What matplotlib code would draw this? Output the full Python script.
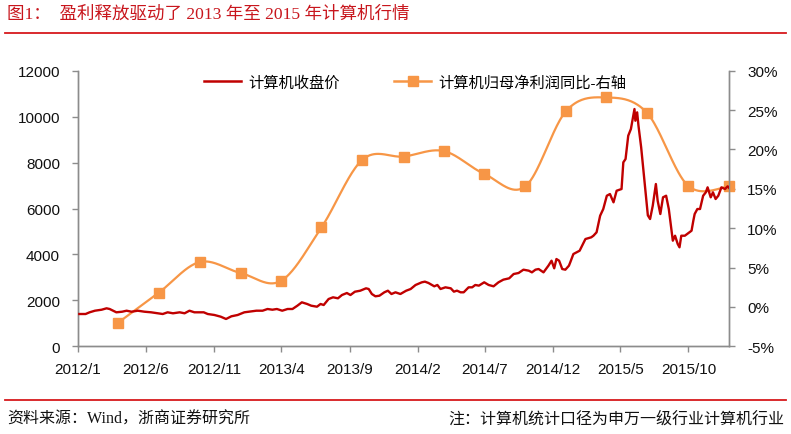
import numpy as np
import pandas as pd
import matplotlib
matplotlib.use("Agg")
import matplotlib.pyplot as plt
import matplotlib.dates as mdates
from matplotlib.lines import Line2D

# ---------------- data ----------------
PRICE_DATES = [
    "2012-01-04", "2012-01-18", "2012-01-27", "2012-02-08", "2012-02-23", "2012-03-05",
    "2012-03-12", "2012-03-20", "2012-03-27", "2012-04-09", "2012-04-19", "2012-04-30",
    "2012-05-14", "2012-05-29", "2012-06-13", "2012-06-28", "2012-07-09", "2012-07-20",
    "2012-08-01", "2012-08-16", "2012-08-27", "2012-09-07", "2012-09-18", "2012-10-09",
    "2012-10-18", "2012-11-02", "2012-11-16", "2012-11-28", "2012-12-10", "2012-12-24",
    "2013-01-08", "2013-01-18", "2013-02-04", "2013-02-18", "2013-03-01", "2013-03-12",
    "2013-03-22", "2013-04-03", "2013-04-15", "2013-04-26", "2013-05-07", "2013-05-17",
    "2013-05-29", "2013-06-07", "2013-06-20", "2013-06-28", "2013-07-05", "2013-07-16",
    "2013-07-26", "2013-08-06", "2013-08-15", "2013-08-26", "2013-09-03", "2013-09-13",
    "2013-09-25", "2013-10-08", "2013-10-14", "2013-10-21", "2013-10-29", "2013-11-07",
    "2013-11-18", "2013-11-26", "2013-12-04", "2013-12-13", "2013-12-24", "2014-01-06",
    "2014-01-16", "2014-01-27", "2014-02-10", "2014-02-17", "2014-02-25", "2014-03-10",
    "2014-03-17", "2014-03-24", "2014-04-04", "2014-04-16", "2014-04-23", "2014-04-30",
    "2014-05-08", "2014-05-15", "2014-05-26", "2014-06-03", "2014-06-10", "2014-06-18",
    "2014-06-30", "2014-07-10", "2014-07-21", "2014-08-01", "2014-08-12", "2014-08-25",
    "2014-09-04", "2014-09-15", "2014-09-26", "2014-10-08", "2014-10-15", "2014-10-23",
    "2014-10-30", "2014-11-10", "2014-11-21", "2014-11-28", "2014-12-04", "2014-12-09",
    "2014-12-15", "2014-12-22", "2014-12-29", "2015-01-06", "2015-01-09", "2015-01-16",
    "2015-01-23", "2015-01-30", "2015-02-12", "2015-02-25", "2015-03-02", "2015-03-09",
    "2015-03-17", "2015-03-24", "2015-04-01", "2015-04-08", "2015-04-16", "2015-04-23",
    "2015-05-04", "2015-05-08", "2015-05-13", "2015-05-19", "2015-05-25", "2015-06-02",
    "2015-06-04", "2015-06-08", "2015-06-11", "2015-06-17", "2015-06-24", "2015-07-02",
    "2015-07-07", "2015-07-13", "2015-07-20", "2015-07-24", "2015-07-30", "2015-08-05",
    "2015-08-12", "2015-08-18", "2015-08-24", "2015-08-27", "2015-09-01", "2015-09-07",
    "2015-09-11", "2015-09-15", "2015-09-23", "2015-10-08", "2015-10-12", "2015-10-15",
    "2015-10-21", "2015-10-27", "2015-11-03", "2015-11-09", "2015-11-13", "2015-11-20",
    "2015-11-25", "2015-12-01", "2015-12-07", "2015-12-14", "2015-12-22", "2015-12-28",
    "2015-12-31",
]
PRICE_VALUES = [
    1406, 1406, 1480, 1550, 1593, 1654,
    1624, 1550, 1480, 1506, 1550, 1506,
    1550, 1506, 1480, 1437, 1406, 1480,
    1437, 1480, 1437, 1550, 1480, 1480,
    1406, 1363, 1290, 1189, 1306, 1363,
    1480, 1506, 1550, 1550, 1624, 1593,
    1624, 1550, 1624, 1624, 1768, 1915,
    1842, 1768, 1724, 1842, 1798, 2059,
    2133, 2090, 2233, 2320, 2233, 2377,
    2421, 2525, 2494, 2277, 2177, 2203,
    2351, 2421, 2277, 2351, 2277, 2421,
    2494, 2669, 2786, 2815, 2757, 2612,
    2670, 2495, 2568, 2525, 2379, 2423,
    2351, 2351, 2568, 2568, 2670, 2641,
    2786, 2670, 2612, 2786, 2902, 2960,
    3147, 3191, 3336, 3292, 3220, 3336,
    3365, 3220, 3510, 3727, 3395, 3800,
    3727, 3365, 3336, 3510, 3657, 4018,
    4092, 4162, 4671, 4745, 4815, 4963,
    5686, 5977, 6556, 6630, 6269, 6774,
    6848, 8010, 8154, 9169, 9460, 10331,
    9822, 10187, 9604, 8663, 7283, 5700,
    5542, 6121, 7066, 6339, 5760, 6487,
    6556, 5977, 5033, 4598, 4815, 4454,
    4310, 4815, 4815, 5033, 5468, 5760,
    5977, 5977, 6556, 6704, 6922, 6487,
    6704, 6413, 6556, 6922, 6848, 6966,
    6900,
]

PROFIT_DATES = [
    "2012-03-31", "2012-06-30", "2012-09-30", "2012-12-31",
    "2013-03-31", "2013-06-30", "2013-09-30", "2013-12-31",
    "2014-03-31", "2014-06-30", "2014-09-30", "2014-12-31",
    "2015-03-31", "2015-06-30", "2015-09-30", "2015-12-31",
]
PROFIT_YOY = [
    -2.0, 1.8, 5.7, 4.3,
    3.3, 10.1, 18.7, 19.1,
    19.8, 16.9, 15.3, 24.9,
    26.6, 24.65, 15.4, 15.3,
]

XTICK_DATES = ["2012-01-01", "2012-06-01", "2012-11-01", "2013-04-01", "2013-09-01",
               "2014-02-01", "2014-07-01", "2014-12-01", "2015-05-01", "2015-10-01"]
XTICK_LABELS = ["2012/1", "2012/6", "2012/11", "2013/4", "2013/9",
                "2014/2", "2014/7", "2014/12", "2015/5", "2015/10"]
LEFT_TICKS = [0, 2000, 4000, 6000, 8000, 10000, 12000]
RIGHT_TICKS = [-5, 0, 5, 10, 15, 20, 25, 30]

SERIES_PRICE = "计算机收盘价"
SERIES_PROFIT = "计算机归母净利润同比-右轴"
TITLE = "图1：  盈利释放驱动了 2013 年至 2015 年计算机行情"
SOURCE = "资料来源：Wind，浙商证券研究所"
NOTE = "注：计算机统计口径为申万一级行业计算机行业"

# ---------------- style ----------------
RED = "#C00000"
ORANGE = "#F79646"
AXIS_GRAY = "#8C8C8C"
TITLE_RED = "#C8161D"
SANS = ["Liberation Sans", "Noto Sans CJK SC"]
SERIF = ["Liberation Serif", "Noto Sans CJK SC"]

plt.rcParams["font.family"] = SANS


def smooth_curve(x, y, n=40):
    """Excel-style smoothed line (Catmull-Rom Bezier) through the given points."""
    p = np.column_stack([x, y]).astype(float)
    out = []
    m = len(p)
    t = np.linspace(0, 1, n)[:, None]
    for i in range(m - 1):
        p0 = p[i - 1] if i > 0 else p[i]
        p1 = p[i]
        p2 = p[i + 1]
        p3 = p[i + 2] if i + 2 < m else p[i + 1]
        c1 = p1 + (p2 - p0) / 6.0
        c2 = p2 - (p3 - p1) / 6.0
        seg = ((1 - t) ** 3) * p1 + 3 * ((1 - t) ** 2) * t * c1 + 3 * (1 - t) * t ** 2 * c2 + t ** 3 * p2
        out.append(seg if i == 0 else seg[1:])
    seg = np.vstack(out)
    return seg[:, 0], seg[:, 1]


W, H = 791, 435
fig = plt.figure(figsize=(W / 100, H / 100), dpi=100)
ax = fig.add_axes([78 / W, 1 - 347.3 / H, (729 - 78) / W, (347.3 - 71.7) / H])
ax2 = ax.twinx()

pdates = mdates.date2num(pd.to_datetime(PRICE_DATES))
ax.plot(pdates, PRICE_VALUES, color=RED, lw=1.7, solid_joinstyle="round", zorder=3)

qdates = mdates.date2num(pd.to_datetime(PROFIT_DATES))
sx, sy = smooth_curve(qdates, PROFIT_YOY)
ax2.plot(sx, sy, color=ORANGE, lw=1.6, zorder=2, clip_on=False)
ax2.plot(qdates, PROFIT_YOY, ls="none", marker="s", ms=6.5, color=ORANGE,
         markeredgecolor=ORANGE, zorder=4, clip_on=False)

# put price line above orange
ax.set_zorder(ax2.get_zorder() + 1)
ax.patch.set_visible(False)

ax.set_xlim(mdates.date2num(pd.Timestamp("2012-01-01")), mdates.date2num(pd.Timestamp("2015-12-31")))
ax.set_ylim(0, 12000)
ax2.set_ylim(-5, 30)

ax.set_xticks(mdates.date2num(pd.to_datetime(XTICK_DATES)))
ax.set_xticklabels(XTICK_LABELS)
ax.set_yticks(LEFT_TICKS)
ax.set_yticklabels([str(v) for v in LEFT_TICKS])
ax2.set_yticks(RIGHT_TICKS)
ax2.set_yticklabels([f"{v}%" for v in RIGHT_TICKS])

for a in (ax, ax2):
    for s in a.spines.values():
        s.set_color(AXIS_GRAY)
        s.set_linewidth(1.0)
    a.spines["top"].set_visible(False)
    a.tick_params(colors=AXIS_GRAY, labelcolor="#111111", labelsize=11, length=4, width=1, direction="out")
ax.tick_params(axis="x", pad=7)
ax.tick_params(axis="y", pad=9)
ax2.tick_params(axis="y", pad=9)

handles = [
    Line2D([], [], color=RED, lw=1.8),
    Line2D([], [], color=ORANGE, lw=1.8, marker="s", ms=6.5),
]
ax.legend(handles, [SERIES_PRICE, SERIES_PROFIT], loc="upper center",
          bbox_to_anchor=(0.518, 1.035), ncol=2, frameon=False, fontsize=11,
          handlelength=2.4, handletextpad=0.45, columnspacing=3.6)

# header / footer
fig.text(7 / W, 1 - 15 / H, TITLE, family=SERIF, fontsize=12.6, color=TITLE_RED, va="center", ha="left")
fig.add_artist(Line2D([5 / W, 786 / W], [1 - 33.7 / H] * 2, color="#D7191C", lw=1.3))
fig.add_artist(Line2D([5 / W, 786 / W], [1 - 401 / H] * 2, color="#D7191C", lw=1.3))
fig.text(7 / W, 1 - 420 / H, SOURCE, family=SERIF, fontsize=11.5, color="#111111", va="center", ha="left")
fig.text(784 / W, 1 - 420 / H, NOTE, family=SERIF, fontsize=11.5, color="#111111", va="center", ha="right")

fig.savefig("out.png", dpi=100)
